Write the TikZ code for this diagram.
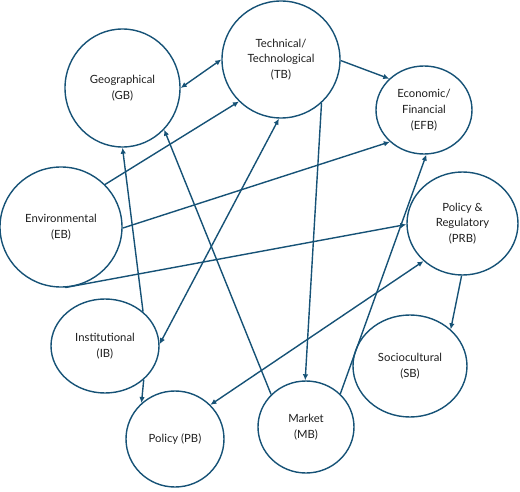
\documentclass[tikz,border=0pt]{standalone}
\usepackage{fontspec}
\setmainfont{Lato}
\usetikzlibrary{shapes.geometric,arrows.meta}
\definecolor{edgec}{RGB}{22,82,118}
\definecolor{txt}{RGB}{30,30,30}
\begin{document}
\begin{tikzpicture}[x=1pt,y=-1pt,
  bub/.style={ellipse,draw=edgec,line width=1.4pt,inner sep=0pt,align=center,
    text=txt,font=\fontsize{11.3}{15.8}\selectfont},
  conn/.style={draw=edgec,line width=1.4pt,-{Latex[length=6pt,width=5.5pt]}},
  conn2/.style={draw=edgec,line width=1.4pt,{Latex[length=6pt,width=5.5pt]}-{Latex[length=6pt,width=5.5pt]}}]
\useasboundingbox (0,0) rectangle (520,492);
\node[bub,minimum width=115pt,minimum height=118pt] (GB) at (122.5,88) {Geographical\\(GB)};
\node[bub,minimum width=118pt,minimum height=117pt] (TB) at (281,59.5) {Technical/\\Technological\\(TB)};
\node[bub,minimum width=96pt,minimum height=88pt] (EFB) at (424,110) {Economic/\\Financial\\(EFB)};
\node[bub,minimum width=111pt,minimum height=103pt] (PRB) at (462.5,223.5) {Policy \&\\Regulatory\\(PRB)};
\node[bub,minimum width=122pt,minimum height=120pt] (EB) at (61,227) {Environmental\\(EB)};
\node[bub,minimum width=108pt,minimum height=94pt] (IB) at (105,346) {Institutional\\(IB)};
\node[bub,minimum width=98pt,minimum height=96pt] (PB) at (175,439) {Policy (PB)};
\node[bub,minimum width=96pt,minimum height=92pt] (MB) at (306,427) {Market\\(MB)};
\node[bub,minimum width=114pt,minimum height=102pt] (SB) at (410,366) {Sociocultural\\(SB)};

\draw[conn2] (GB.0) -- (TB.180);
\draw[conn] (EB.44) -- (TB.-135);
\draw[conn] (EB.-1) -- (EFB.-137.6);
\draw[conn] (EB.-86) -- (PRB.181);
\draw[conn] (IB.42) -- (GB.-90);
\draw[conn] (IB.-41) -- (PB.133);
\draw[conn] (MB.137.5) -- (GB.-45);
\draw[conn2] (TB.-92) -- (IB.2);
\draw[conn] (TB.-47.7) -- (MB.91);
\draw[conn] (TB.-1) -- (EFB.138.5);
\draw[conn] (MB.44) -- (EFB.-87.5);
\draw[conn2] (PB.44) -- (PRB.-136.9);
\draw[conn] (PRB.-91) -- (SB.42);
\end{tikzpicture}
\end{document}
